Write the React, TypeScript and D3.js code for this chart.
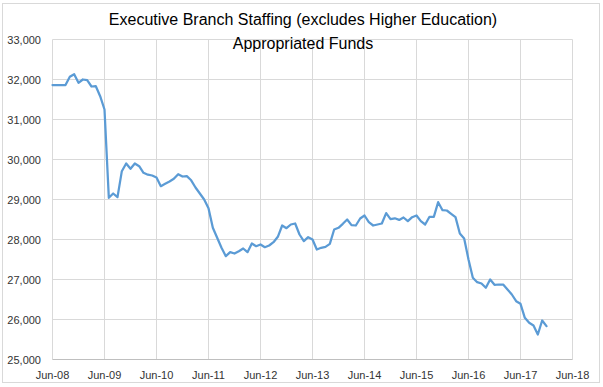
import React, { useEffect, useRef } from 'react';
import * as d3 from 'd3';

// monthly headcount, Jun-08 .. Dec-17
const staffing = [
  31860, 31860, 31860, 31860, 32067, 32133, 31917, 32000, 31983, 31825, 31833, 31583,
  31250, 29042, 29150, 29058, 29708, 29900, 29767, 29900, 29833, 29667, 29620, 29600,
  29550, 29333, 29392, 29450, 29517, 29633, 29575, 29583, 29480, 29300, 29150, 29000,
  28780, 28292, 28042, 27792, 27583, 27683, 27650, 27708, 27775, 27683, 27900, 27833,
  27875, 27808, 27850, 27933, 28067, 28350, 28283, 28375, 28400, 28125, 27958, 28058,
  28000, 27750, 27792, 27817, 27892, 28250, 28292, 28392, 28500, 28358, 28350, 28525,
  28600, 28433, 28350, 28375, 28400, 28660, 28510, 28530, 28490, 28550, 28458, 28558,
  28600, 28458, 28375, 28567, 28567, 28933, 28733, 28725, 28642, 28560, 28150, 28025,
  27500, 27042, 26933, 26900, 26792, 27000, 26867, 26875, 26875, 26750, 26625, 26458,
  26392, 26042, 25917, 25850, 25625, 25975, 25833,
];

const xTickLabels = ['Jun-08', 'Jun-09', 'Jun-10', 'Jun-11', 'Jun-12', 'Jun-13', 'Jun-14', 'Jun-15', 'Jun-16', 'Jun-17', 'Jun-18'];
const yTickValues = [25000, 26000, 27000, 28000, 29000, 30000, 31000, 32000, 33000];
const titleLines = ['Executive Branch Staffing (excludes Higher Education)', 'Appropriated Funds'];

const App = () => {
  const svgRef = useRef<SVGSVGElement>(null);

  useEffect(() => {
    const svg = d3.select(svgRef.current);
    svg.selectAll('*').remove();

    const width = 603;
    const height = 387;
    const font = '"Liberation Sans", Arial, sans-serif';

    // outer chart border
    svg.append('rect')
      .attr('x', 2.5).attr('y', 3.5)
      .attr('width', 597).attr('height', 379)
      .attr('fill', 'white')
      .attr('stroke', '#d9d9d9');

    const x = d3.scaleLinear().domain([0, 120]).range([52.5, 572.5]);
    const y = d3.scaleLinear().domain([25000, 33000]).range([359.5, 39.5]);

    // horizontal gridlines
    svg.append('g').selectAll('line')
      .data(yTickValues.slice(1))
      .enter().append('line')
      .attr('x1', x(0)).attr('x2', x(120))
      .attr('y1', d => y(d)).attr('y2', d => y(d))
      .attr('stroke', '#d9d9d9').attr('stroke-width', 1);

    // vertical gridlines, one per June
    svg.append('g').selectAll('line')
      .data(xTickLabels)
      .enter().append('line')
      .attr('x1', (d, i) => x(i * 12)).attr('x2', (d, i) => x(i * 12))
      .attr('y1', y(33000)).attr('y2', y(25000))
      .attr('stroke', '#d9d9d9').attr('stroke-width', 1);

    // bottom axis line
    svg.append('line')
      .attr('x1', x(0)).attr('x2', x(120))
      .attr('y1', y(25000)).attr('y2', y(25000))
      .attr('stroke', '#bfbfbf');

    // y labels
    svg.append('g').selectAll('text')
      .data(yTickValues)
      .enter().append('text')
      .attr('x', 41)
      .attr('y', d => y(d) + 4)
      .attr('text-anchor', 'end')
      .style('font-family', font)
      .style('font-size', '11px')
      .style('fill', '#333')
      .text(d => d3.format(',')(d));

    // x labels
    svg.append('g').selectAll('text')
      .data(xTickLabels)
      .enter().append('text')
      .attr('x', (d, i) => x(i * 12))
      .attr('y', 379)
      .attr('text-anchor', 'middle')
      .style('font-family', font)
      .style('font-size', '11px')
      .style('fill', '#333')
      .text(d => d);

    // the series
    const line = d3.line<number>()
      .x((d, i) => x(i))
      .y(d => y(d));

    svg.append('path')
      .datum(staffing)
      .attr('d', line)
      .attr('fill', 'none')
      .attr('stroke', '#5b9bd5')
      .attr('stroke-width', 2.25)
      .attr('stroke-linejoin', 'round')
      .attr('stroke-linecap', 'round');

    // title
    svg.append('g').selectAll('text')
      .data(titleLines)
      .enter().append('text')
      .attr('x', 303)
      .attr('y', (d, i) => 25 + i * 24)
      .attr('text-anchor', 'middle')
      .style('font-family', font)
      .style('font-size', '16px')
      .style('fill', '#000')
      .text(d => d);
  }, []);

  return (
    <svg ref={svgRef} width={603} height={387}
      style={{ position: 'absolute', left: 0, top: 0, background: 'white' }} />
  );
};

export default App;
